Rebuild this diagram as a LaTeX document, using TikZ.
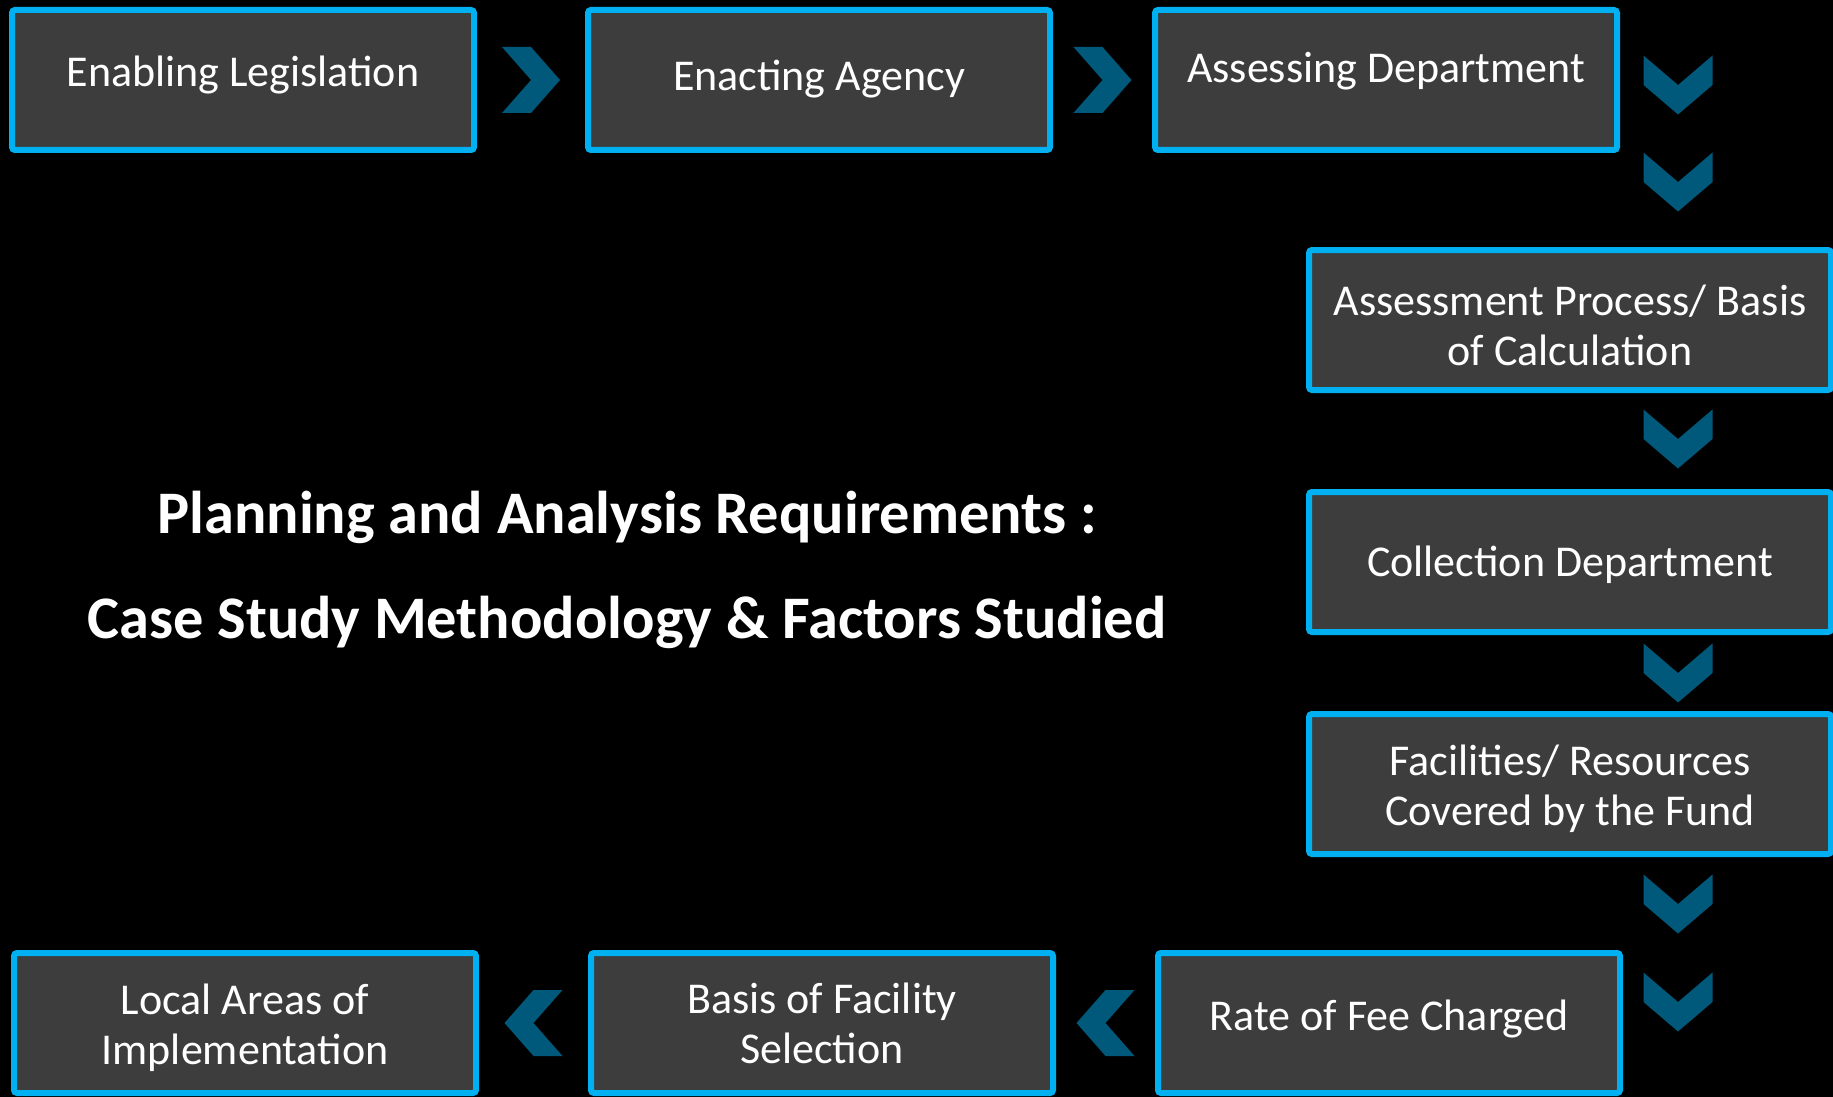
\documentclass[tikz,border=0pt]{standalone}
\usepackage{fontspec}
\setmainfont{Carlito}
\usetikzlibrary{calc}
\definecolor{boxfill}{HTML}{3D3D3D}
\definecolor{boxline}{HTML}{00B0F0}
\definecolor{chevblue}{HTML}{00587A}
% extra room above the first / below the last line of a two-line box
\newcommand{\padtop}{\rule{0pt}{20.5pt}}
\newcommand{\padbot}{\rule[-5pt]{0pt}{5pt}}

\begin{document}
\begin{tikzpicture}[x=0.5pt,y=-0.5pt,
  box/.style={draw=boxline, fill=boxfill, line width=3pt, rounded corners=1.5pt, minimum width=231pt, minimum height=70pt, inner sep=0pt, text=white, align=center, font=\fontsize{22}{25}\selectfont},
  widebox/.style={box, minimum width=261pt},
  oneline/.style={text height=19.6pt, text depth=#1},
  oneline/.default=5pt,
  headline/.style={text=white, font=\fontsize{30.2}{36}\selectfont\bfseries},
  pics/chevright/.style={code={\fill[chevblue] (-29,-33) -- (0,-33) -- (29,0) -- (0,33) -- (-29,33) -- (0,0) -- cycle;}},
  pics/chevleft/.style={code={\fill[chevblue] (29,-33) -- (0,-33) -- (-29,0) -- (0,33) -- (29,33) -- (0,0) -- cycle;}},
  pics/chevdown/.style={code={\fill[chevblue] (-34.5,-29.5) -- (0,0) -- (34.5,-29.5) -- (34.5,0) -- (0,29.5) -- (-34.5,0) -- cycle;}}]

\path[use as bounding box, fill=black] (0,0) rectangle (1833,1097);
\clip (0,0) rectangle (1833,1097);

% top row
\node[box, oneline=13pt] (legis) at (243,80) {Enabling Legislation};
\node[box, oneline=9pt] (agency) at (819,80) {Enacting Agency};
\node[box, oneline=17pt] (assess) at (1386,80) {Assessing Department};

% right column
\node[widebox] (process) at (1570,320) {\padtop Assessment Process/ Basis\\of Calculation};
\node[widebox, oneline] (collect) at (1570,562) {Collection Department};
\node[widebox] (facil) at (1570,784) {\padtop Facilities/ Resources\\Covered by the Fund};

% bottom row
\node[box, oneline=12pt] (rate) at (1389,1023) {Rate of Fee Charged};
\node[box] (select) at (822,1023) {\padtop Basis of Facility\\Selection\padbot};
\node[box] (areas) at (245,1023) {\padtop Local Areas of\\Implementation};

% heading in the middle
\node[headline] (head1) at (627,517) {Planning and Analysis Requirements :};
\node[headline] (head2) at (627,622) {Case Study Methodology \& Factors Studied};

% chevrons
\pic at ($(legis.east)!0.5!(agency.west)$) {chevright};
\pic at ($(agency.east)!0.5!(assess.west)$) {chevright};
\pic at (1678,85) {chevdown};
\pic at (1678,182) {chevdown};
\pic at (1678,439) {chevdown};
\pic at (1678,673) {chevdown};
\pic at (1678,904) {chevdown};
\pic at (1678,1002) {chevdown};
\pic at ($(select.east)!0.5!(rate.west)$) {chevleft};
\pic at ($(areas.east)!0.5!(select.west)$) {chevleft};
\end{tikzpicture}
\end{document}
